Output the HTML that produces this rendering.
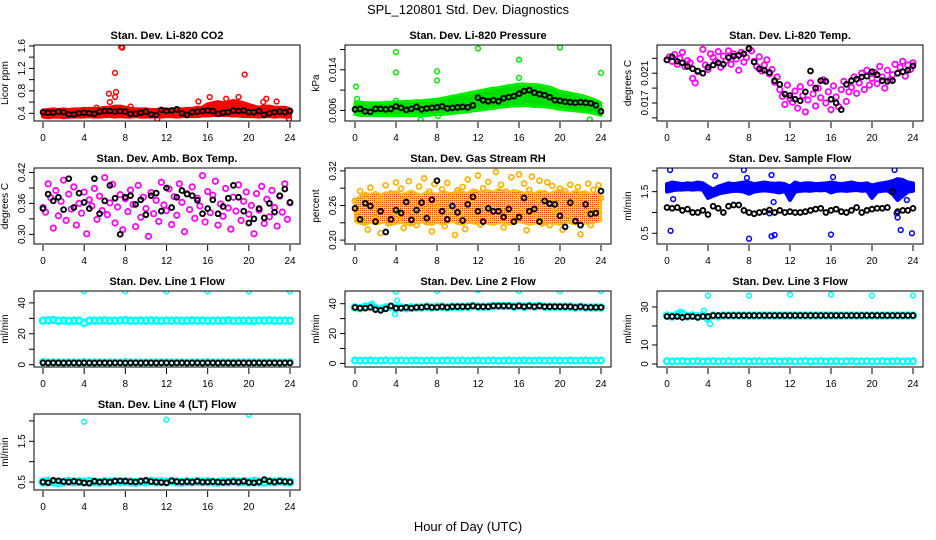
<!DOCTYPE html>
<html><head><meta charset="utf-8"><style>
html,body{margin:0;padding:0;background:#fff;}
svg{display:block;font-family:"Liberation Sans",sans-serif;}
</style></head><body>
<svg id="chart" width="936" height="540" viewBox="0 0 936 540" xmlns="http://www.w3.org/2000/svg">
<defs>
<pattern id="rhpat" width="2" height="2" patternUnits="userSpaceOnUse"><rect width="2" height="2" fill="#ffd800"/><rect width="1" height="1" fill="#ff2000"/></pattern>
</defs>
<text x="468" y="14" font-size="13" text-anchor="middle">SPL_120801  Std. Dev. Diagnostics</text>
<text x="468" y="531" font-size="13" text-anchor="middle">Hour of Day (UTC)</text>
<g id="panels"></g>
</svg>
<script>
const hours=[0,0.5,1,1.5,2,2.5,3,3.5,4,4.5,5,5.5,6,6.5,7,7.5,8,8.5,9,9.5,10,10.5,11,11.5,12,12.5,13,13.5,14,14.5,15,15.5,16,16.5,17,17.5,18,18.5,19,19.5,20,20.5,21,21.5,22,22.5,23,23.5,24];
const qhours=[0,0.25,0.5,0.75,1,1.25,1.5,1.75,2,2.25,2.5,2.75,3,3.25,3.5,3.75,4,4.25,4.5,4.75,5,5.25,5.5,5.75,6,6.25,6.5,6.75,7,7.25,7.5,7.75,8,8.25,8.5,8.75,9,9.25,9.5,9.75,10,10.25,10.5,10.75,11,11.25,11.5,11.75,12,12.25,12.5,12.75,13,13.25,13.5,13.75,14,14.25,14.5,14.75,15,15.25,15.5,15.75,16,16.25,16.5,16.75,17,17.25,17.5,17.75,18,18.25,18.5,18.75,19,19.25,19.5,19.75,20,20.25,20.5,20.75,21,21.25,21.5,21.75,22,22.25,22.5,22.75,23,23.25,23.5,23.75,24];
const xTicks=[0,4,8,12,16,20,24];

// CO2
const co2Lo=[0.34,0.33,0.34,0.34,0.33,0.34,0.34,0.34,0.34,0.35,0.34,0.34,0.35,0.35,0.34,0.35,0.34,0.34,0.35,0.34,0.34,0.34,0.35,0.34,0.35,0.35,0.34,0.35,0.35,0.35,0.35,0.36,0.36,0.37,0.37,0.37,0.37,0.36,0.36,0.35,0.35,0.35,0.34,0.35,0.35,0.34,0.35,0.34,0.34];
const co2Hi=[0.45,0.46,0.47,0.46,0.47,0.46,0.47,0.47,0.48,0.48,0.48,0.48,0.5,0.5,0.52,0.52,0.5,0.48,0.47,0.47,0.47,0.46,0.46,0.47,0.47,0.46,0.48,0.47,0.48,0.48,0.5,0.5,0.56,0.58,0.6,0.58,0.6,0.62,0.6,0.58,0.55,0.52,0.5,0.52,0.52,0.5,0.5,0.5,0.47];
const co2Blk=[0.42,0.41,0.41,0.43,0.42,0.38,0.38,0.4,0.41,0.4,0.39,0.43,0.44,0.44,0.43,0.44,0.43,0.39,0.39,0.41,0.43,0.38,0.37,0.46,0.44,0.45,0.47,0.4,0.37,0.42,0.43,0.44,0.45,0.44,0.39,0.41,0.42,0.45,0.44,0.45,0.42,0.42,0.44,0.37,0.4,0.42,0.43,0.42,0.44];
const co2OutX=[7.6,7.7,7.0,19.6,6.4,7.1,7.0,6.5,16.2,19.0,17.8,21.7,15.1,22.7,21.4,23.9,11.1,8.5,5.2];
const co2OutY=[1.58,1.57,1.12,1.09,0.75,0.78,0.69,0.6,0.69,0.69,0.66,0.66,0.61,0.61,0.6,0.3,0.3,0.52,0.5];

// Pressure
const prHi=[0.0076,0.0076,0.0075,0.0075,0.0075,0.0075,0.0076,0.0076,0.0077,0.0077,0.0078,0.0078,0.0079,0.0079,0.0080,0.0081,0.0082,0.0084,0.0086,0.0088,0.0090,0.0092,0.0094,0.0096,0.0098,0.0100,0.0102,0.0104,0.0105,0.0107,0.0109,0.0110,0.0112,0.0112,0.0111,0.0111,0.0110,0.0108,0.0106,0.0102,0.0098,0.0096,0.0094,0.0092,0.0090,0.0087,0.0084,0.0080,0.0075];
const prLo=[0.0052,0.0050,0.0050,0.0050,0.0050,0.0050,0.0050,0.0050,0.0050,0.0050,0.0050,0.0050,0.0050,0.0050,0.0050,0.0051,0.0052,0.0052,0.0053,0.0054,0.0055,0.0056,0.0057,0.0059,0.0060,0.0061,0.0063,0.0064,0.0066,0.0067,0.0068,0.0069,0.0069,0.0070,0.0069,0.0068,0.0068,0.0067,0.0066,0.0064,0.0062,0.0061,0.0060,0.0059,0.0058,0.0057,0.0055,0.0053,0.0050];
const prBlk=[0.0062,0.0063,0.0058,0.0057,0.0063,0.0063,0.0062,0.0063,0.0068,0.0065,0.0061,0.0063,0.0067,0.0062,0.0064,0.0065,0.0066,0.0068,0.0064,0.0065,0.0066,0.0067,0.0066,0.0070,0.0085,0.0080,0.0078,0.0080,0.0078,0.0084,0.0086,0.0088,0.0093,0.0098,0.0100,0.0095,0.0092,0.0090,0.0086,0.0080,0.0079,0.0077,0.0076,0.0075,0.0076,0.0075,0.0074,0.0070,0.0058];
const prOutX=[4,4,8,8,12,16,16,20,24,0.1,8.1,6.4,22.9,0.2,4];
const prOutY=[0.0175,0.0135,0.0137,0.0119,0.0182,0.0160,0.0124,0.0184,0.0134,0.0107,0.0049,0.0042,0.0042,0.0083,0.0079];

// Li-820 Temp
const tmpMag=[0.0228,0.0232,0.0226,0.0235,0.0222,0.0230,0.0238,0.0219,0.0227,
0.0224,0.0203,0.0197,0.0212,0.0229,0.0242,0.0221,0.0215,
0.0236,0.0231,0.0226,0.0239,0.0218,0.0233,0.0227,0.0240,
0.0222,0.0236,0.0229,0.0214,0.0238,0.0225,0.0231,0.0243,
0.0240,0.0226,0.0219,0.0232,0.0213,0.0221,0.0228,0.0209,
0.0215,0.0198,0.0205,0.0188,0.0179,0.0168,0.0194,0.0176,
0.0171,0.0186,0.0163,0.0192,0.0180,0.0158,0.0174,0.0197,
0.0182,0.0166,0.0190,0.0177,0.0201,0.0170,0.0185,0.0161,
0.0193,0.0178,0.0165,0.0188,0.0199,0.0172,0.0185,0.0191,
0.0205,0.0183,0.0197,0.0210,0.0188,0.0214,0.0194,0.0203,
0.0211,0.0196,0.0219,0.0205,0.0190,0.0214,0.0201,0.0208,
0.0222,0.0210,0.0218,0.0226,0.0206,0.0221,0.0215,0.0224];
const tmpBlk=[0.0228,0.0232,0.0226,0.0224,0.0219,0.0216,0.0213,0.0210,0.0218,0.0221,0.0224,0.0222,0.0231,0.0233,0.0234,0.0236,0.0243,0.0225,0.0216,0.0214,0.0211,0.0200,0.0195,0.0182,0.0180,0.0175,0.0173,0.0185,0.0213,0.0190,0.0200,0.0199,0.0175,0.0170,0.0161,0.0195,0.0200,0.0202,0.0205,0.0206,0.0212,0.0208,0.0200,0.0199,0.0200,0.0210,0.0212,0.0214,0.0220];

// Amb box temp
const ambMag=[0.352,0.343,0.398,0.371,0.312,0.385,0.336,0.364,0.405,
0.327,0.378,0.349,0.392,0.318,0.360,0.341,0.382,
0.301,0.367,0.355,0.389,0.329,0.374,0.346,0.410,
0.338,0.361,0.397,0.322,0.353,0.377,0.309,0.369,
0.344,0.386,0.358,0.315,0.395,0.333,0.372,0.350,
0.296,0.381,0.340,0.366,0.325,0.401,0.357,0.346,
0.388,0.319,0.373,0.337,0.398,0.362,0.305,0.379,
0.348,0.392,0.331,0.370,0.355,0.414,0.324,0.383,
0.342,0.376,0.403,0.318,0.359,0.335,0.389,0.351,
0.310,0.372,0.345,0.396,0.327,0.364,0.382,0.339,
0.356,0.301,0.379,0.347,0.393,0.321,0.368,0.334,
0.385,0.352,0.316,0.374,0.343,0.398,0.329,0.361];
const ambBlk=[0.350,0.378,0.365,0.372,0.348,0.408,0.352,0.380,0.362,0.350,0.408,0.340,0.365,0.395,0.370,0.300,0.372,0.375,0.358,0.367,0.338,0.375,0.380,0.345,0.390,0.352,0.372,0.385,0.378,0.375,0.366,0.340,0.350,0.367,0.340,0.354,0.370,0.395,0.372,0.345,0.322,0.330,0.350,0.332,0.360,0.343,0.375,0.388,0.362];

// Gas stream RH
const rhLo=[0.232,0.228,0.226,0.230,0.227,0.229,0.231,0.226,0.228,0.230,0.227,0.225,0.229,0.231,0.228,0.226,0.230,0.227,0.229,0.232,0.228,0.226,0.230,0.229,0.227,0.231,0.228,0.226,0.229,0.230,0.227,0.228,0.231,0.229,0.226,0.228,0.230,0.227,0.229,0.228,0.226,0.231,0.229,0.227,0.230,0.228,0.229,0.231,0.233];
const rhHi=[0.270,0.278,0.282,0.280,0.284,0.279,0.283,0.281,0.285,0.280,0.282,0.286,0.281,0.279,0.284,0.282,0.280,0.285,0.283,0.281,0.286,0.284,0.282,0.288,0.285,0.283,0.287,0.284,0.289,0.286,0.283,0.287,0.285,0.282,0.284,0.281,0.286,0.283,0.281,0.285,0.287,0.284,0.282,0.286,0.283,0.285,0.280,0.282,0.275];
const rhPts=[0.268,0.243,0.285,0.232,0.276,0.218,0.291,0.257,0.238,
0.272,0.212,0.264,0.295,0.229,0.281,0.247,0.300,
0.236,0.289,0.221,0.270,0.302,0.244,0.279,0.226,
0.293,0.253,0.307,0.231,0.284,0.215,0.297,0.262,
0.240,0.288,0.224,0.299,0.256,0.278,0.209,0.286,
0.245,0.292,0.219,0.305,0.266,0.233,0.283,0.312,
0.227,0.290,0.258,0.301,0.238,0.274,0.318,0.249,
0.296,0.222,0.284,0.263,0.309,0.235,0.277,0.314,
0.251,0.298,0.217,0.287,0.310,0.242,0.273,0.303,
0.229,0.281,0.300,0.226,0.294,0.252,0.270,0.289,
0.218,0.285,0.244,0.296,0.233,0.271,0.292,0.210,
0.279,0.248,0.298,0.226,0.287,0.262,0.295,0.273];
const rhBlk=[0.255,0.236,0.264,0.259,0.232,0.250,0.214,0.236,0.252,0.247,0.266,0.235,0.252,0.265,0.238,0.270,0.303,0.250,0.236,0.259,0.248,0.234,0.262,0.275,0.250,0.232,0.255,0.250,0.250,0.240,0.254,0.232,0.240,0.273,0.250,0.254,0.232,0.268,0.263,0.262,0.242,0.223,0.265,0.233,0.226,0.262,0.245,0.247,0.285];

// Sample flow
const sfLo=[1.50,1.53,1.55,1.55,1.56,1.55,1.56,1.55,1.35,1.40,1.45,1.48,1.50,1.52,1.52,1.50,1.45,1.50,1.52,1.53,1.52,1.50,1.48,1.52,1.30,1.50,1.52,1.53,1.52,1.54,1.53,1.54,1.48,1.52,1.53,1.52,1.53,1.54,1.52,1.53,1.35,1.50,1.52,1.53,1.45,1.30,1.40,1.50,1.52];
const sfHi=[1.68,1.72,1.70,1.68,1.70,1.69,1.72,1.70,1.62,1.55,1.62,1.66,1.70,1.68,1.70,1.72,1.72,1.68,1.70,1.72,1.70,1.69,1.70,1.68,1.62,1.72,1.68,1.70,1.70,1.68,1.69,1.70,1.72,1.70,1.68,1.70,1.72,1.69,1.68,1.70,1.65,1.68,1.70,1.72,1.75,1.80,1.78,1.72,1.70];
const sfBlk=[1.12,1.10,1.12,1.05,1.08,1.00,1.00,1.05,0.95,1.15,1.10,1.00,1.15,1.18,1.18,1.05,1.00,0.97,1.00,1.02,1.06,1.00,1.05,1.00,1.02,1.00,1.00,1.02,1.05,1.08,1.10,1.00,1.05,1.08,1.02,1.00,1.05,1.12,1.00,1.05,1.08,1.10,1.10,1.12,1.50,1.02,1.05,1.05,1.10];
const sfOutX=[0.3,0.35,0.6,4.7,7.5,7.8,8.0,10.2,10.2,10.5,10.4,16.0,16.2,22.2,22.8,23.9,22.5,22.4,23.4,10.0];
const sfOutY=[2.02,0.56,1.32,1.88,2.02,1.83,0.37,1.9,0.43,0.46,1.25,0.47,1.85,2.02,0.58,0.5,0.88,0.98,1.3,0.98];

// Line flows
const l1Cyan=[28.5,28.7,29.0,28.4,28.6,28.3,28.5,28.6,27.0,28.4,28.6,28.5,28.7,28.4,28.5,28.6,28.8,28.5,28.4,28.6,28.5,28.7,28.5,28.4,28.6,28.5,28.6,28.4,28.5,28.7,28.5,28.6,28.4,28.5,28.6,28.5,28.7,28.4,28.5,28.6,28.5,28.4,28.6,28.5,28.7,28.5,28.4,28.6,28.5];
const l1CyanLow=[1.8,1.5,1.6,1.5,1.4,1.6,1.5,1.5,1.7,1.5,1.6,1.5,1.4,1.6,1.5,1.5,1.8,1.5,1.6,1.5,1.5,1.4,1.6,1.5,1.6,1.5,1.5,1.6,1.4,1.5,1.6,1.5,1.7,1.5,1.5,1.6,1.4,1.5,1.6,1.5,1.6,1.5,1.5,1.4,1.6,1.5,1.5,1.4,1.6];
const l1Blk=[1.2,1.1,1.2,1.2,1.1,1.2,1.2,1.1,1.2,1.2,1.1,1.2,1.2,1.1,1.2,1.2,1.1,1.2,1.2,1.1,1.2,1.2,1.1,1.2,1.2,1.1,1.2,1.2,1.1,1.2,1.2,1.1,1.2,1.2,1.1,1.2,1.2,1.1,1.2,1.2,1.1,1.2,1.2,1.1,1.2,1.2,1.1,1.2,1.2];
const l1OutX=[4,8,12,16,20,24];
const l1OutY=[47.5,47.5,47.5,47.5,47.5,47.5];
const l2Cyan=[37.5,37.0,38.0,38.5,37.0,36.5,37.5,38.0,37.0,37.5,37.0,37.5,37.5,37.5,38.0,37.5,38.0,38.0,37.5,38.0,38.0,38.0,38.0,38.5,38.0,38.0,38.0,38.5,38.5,38.5,38.5,38.0,38.5,38.0,38.5,38.0,38.5,38.0,38.0,38.0,38.0,38.0,38.0,37.5,38.0,37.5,37.5,37.5,37.5];
const l2CyanLow=[2.0,1.8,1.9,2.0,1.8,1.9,2.0,1.8,1.9,2.0,1.8,1.9,2.0,1.8,1.9,2.0,1.8,1.9,2.0,1.8,1.9,2.0,1.8,1.9,2.0,1.8,1.9,2.0,1.8,1.9,2.0,1.8,1.9,2.0,1.8,1.9,2.0,1.8,1.9,2.0,1.8,1.9,2.0,1.8,1.9,2.0,1.8,1.9,2.0];
const l2Blk=[37.5,37.0,37.0,37.5,36.0,35.5,36.5,38.5,37.0,37.0,37.5,37.0,37.5,37.5,38.0,37.5,37.5,38.0,37.5,38.0,38.0,38.0,38.0,38.5,38.0,38.0,38.0,38.5,38.5,38.5,38.5,38.0,38.5,38.0,38.5,38.0,38.5,38.0,38.0,38.0,38.0,38.0,38.0,37.5,38.0,37.5,37.5,37.5,37.5];
const l2OutX=[4,8,12,16,20,24,1.7,3.9,4.1];
const l2OutY=[48,48.5,49,48.5,48.5,48.5,40,33,42];
const l3Cyan=[25.5,25.0,26.0,26.5,25.0,25.5,25.0,25.5,24.0,25.5,25.0,25.5,25.5,25.5,25.5,25.5,25.5,25.5,25.5,25.5,25.5,25.5,25.5,25.5,25.5,25.5,25.5,25.5,25.5,25.5,25.5,25.5,25.5,25.5,25.5,25.5,25.5,25.5,25.5,25.5,25.5,25.5,25.5,25.5,25.5,25.5,25.5,25.5,25.5];
const l3CyanLow=[1.5,1.3,1.4,1.5,1.3,1.4,1.5,1.3,1.4,1.5,1.3,1.4,1.5,1.3,1.4,1.5,1.3,1.4,1.5,1.3,1.4,1.5,1.3,1.4,1.5,1.3,1.4,1.5,1.3,1.4,1.5,1.3,1.4,1.5,1.3,1.4,1.5,1.3,1.4,1.5,1.3,1.4,1.5,1.3,1.4,1.5,1.3,1.4,1.5];
const l3Blk=[25.0,25.0,25.0,24.5,25.0,25.0,24.5,25.0,25.0,25.5,25.5,25.5,25.5,25.5,25.5,25.5,25.5,25.5,25.5,25.5,25.5,25.5,25.5,25.5,25.5,25.5,25.5,25.5,25.5,25.5,25.5,25.5,25.5,25.5,25.5,25.5,25.5,25.5,25.5,25.5,25.5,25.5,25.5,25.5,25.5,25.5,25.5,25.5,25.5];
const l3OutX=[4,8,12,16,20,24,1.3,3.6,4.2];
const l3OutY=[36,36,36.5,36.5,36,36,27.5,28,21];
const l4Cyan=[0.50,0.52,0.50,0.48,0.50,0.52,0.50,0.51,0.50,0.52,0.50,0.49,0.51,0.50,0.52,0.50,0.51,0.50,0.49,0.51,0.50,0.52,0.50,0.51,0.50,0.52,0.50,0.49,0.51,0.50,0.52,0.50,0.51,0.50,0.49,0.51,0.50,0.52,0.50,0.51,0.50,0.52,0.50,0.49,0.51,0.50,0.52,0.50,0.50];
const l4Blk=[0.50,0.48,0.54,0.53,0.51,0.50,0.52,0.50,0.48,0.47,0.52,0.50,0.51,0.50,0.52,0.53,0.52,0.51,0.50,0.52,0.54,0.51,0.50,0.49,0.48,0.53,0.51,0.50,0.51,0.50,0.52,0.50,0.50,0.51,0.50,0.49,0.50,0.51,0.50,0.52,0.49,0.48,0.50,0.56,0.52,0.50,0.52,0.51,0.50];
const l4OutX=[4,12,20];
const l4OutY=[1.98,2.03,2.15];

const NS="http://www.w3.org/2000/svg";
const root=document.getElementById('panels');
function mk(tag,attrs,parent){const e=document.createElementNS(NS,tag);for(const k in attrs)e.setAttribute(k,attrs[k]);parent.appendChild(e);return e;}

const cols=[[34,300,43,290],[345,611,355,601],[657,923,667,913]];
const rows=[[45,121],[168,244],[291,367],[414,490]];

function panel(cfg){
  const [bl,br,x0,x24]=cols[cfg.c];const [bt,bb]=rows[cfg.r];
  const g=mk('g',{},root);
  
  
  const sx=h=>x0+(h/24)*(x24-x0);
  const sy=v=>bb-(v-cfg.ymin)/(cfg.ymax-cfg.ymin)*(bb-bt);
  const t=mk('text',{x:(bl+br)/2,y:bt-6,'font-size':11,'font-weight':'bold','text-anchor':'middle'},g);
  t.textContent=cfg.title;
  
  
  const yl=mk('text',{x:0,y:0,'font-size':10,'text-anchor':'middle',transform:`translate(${bl-26},${(bt+bb)/2}) rotate(-90)`},g);
  yl.textContent=cfg.ylab;
  
  
  const clip='clip-'+cfg.name;
  const cp=mk('clipPath',{id:clip},g);mk('rect',{x:bl,y:bt,width:br-bl,height:bb-bt},cp);
  const plot=mk('g',{'clip-path':`url(#${clip})`},g);
  
  
  (cfg.bands||[]).forEach(b=>{
    let pts=[];b.x.forEach((h,i)=>pts.push(sx(h)+','+sy(b.hi[i])));
    for(let i=b.x.length-1;i>=0;i--)pts.push(sx(b.x[i])+','+sy(b.lo[i]));
    const p=mk('polygon',{points:pts.join(' '),fill:b.fill,stroke:b.color,'stroke-width':b.sw||4,'stroke-linejoin':'round'},plot);
    
    
  });
  (cfg.series||[]).forEach(s=>{
    s.x.forEach((h,i)=>{
      const c=mk('circle',{cx:sx(h),cy:sy(s.y[i]),r:s.r||2.4,fill:'none',stroke:s.color,'stroke-width':s.w||1.5},plot);
      
      
    });
  });
  const box=mk('rect',{x:bl,y:bt,width:br-bl,height:bb-bt,fill:'none',stroke:'#000','stroke-width':1},g);
  
  
  xTicks.forEach(h=>{
    mk('line',{x1:sx(h),x2:sx(h),y1:bb+1,y2:bb+7,stroke:'#000'},g);
    const tl=mk('text',{x:sx(h),y:bb+20,'font-size':10,'text-anchor':'middle'},g);
    tl.textContent=h;
    
    
  });
  const ty=cfg.yticks.filter(v=>v>=cfg.ymin&&v<=cfg.ymax);
  ty.forEach(v=>{mk('line',{x1:bl-5,x2:bl,y1:sy(v),y2:sy(v),stroke:'#000'},g);});
  cfg.ylabels.forEach((lab,i)=>{
    const v=cfg.ylabelVals[i];
    const tl=mk('text',{x:0,y:0,'font-size':10,'text-anchor':'middle',transform:`translate(${bl-9},${sy(v)}) rotate(-90)`},g);
    tl.textContent=lab;
    
    
  });
}

const BW=1.9;
panel({name:'co2',c:0,r:0,title:'Stan. Dev. Li-820 CO2',ylab:'Licor ppm',ymin:0.263,ymax:1.617,
  yticks:[0.4,0.6,0.8,1.0,1.2,1.4,1.6],ylabelVals:[0.4,0.8,1.2,1.6],ylabels:['0.4','0.8','1.2','1.6'],
  bands:[{x:hours,lo:co2Lo,hi:co2Hi,fill:'#ff0000',color:'#ff0000'}],
  series:[{name:'co2-outlier',x:co2OutX,y:co2OutY,color:'#ff0000'},{name:'co2-hourly',x:hours,y:co2Blk,color:'#000',w:BW}]});
panel({name:'pressure',c:1,r:0,title:'Stan. Dev. Li-820 Pressure',ylab:'kPa',ymin:0.00391,ymax:0.01889,
  yticks:[0.006,0.010,0.014,0.018],ylabelVals:[0.006,0.014],ylabels:['0.006','0.014'],
  bands:[{x:hours,lo:prLo,hi:prHi,fill:'#00dd00',color:'#00ee00',sw:3}],
  series:[{name:'pressure-outlier',x:prOutX,y:prOutY,color:'#00ee00'},{name:'pressure-hourly',x:hours,y:prBlk,color:'#000',w:BW}]});
panel({name:'li820-temp',c:2,r:0,title:'Stan. Dev. Li-820 Temp.',ylab:'degrees C',ymin:0.01458,ymax:0.02479,
  yticks:[0.015,0.017,0.019,0.021,0.023],ylabelVals:[0.017,0.021],ylabels:['0.017','0.021'],
  series:[{name:'li820-temp-sample',x:qhours,y:tmpMag,color:'#ff00ff',r:2.7,w:1.8},{name:'li820-temp-hourly',x:hours,y:tmpBlk,color:'#000',w:BW}]});
panel({name:'amb-box-temp',c:0,r:1,title:'Stan. Dev. Amb. Box Temp.',ylab:'degrees C',ymin:0.2812,ymax:0.4287,
  yticks:[0.30,0.33,0.36,0.39,0.42],ylabelVals:[0.30,0.36,0.42],ylabels:['0.30','0.36','0.42'],
  series:[{name:'amb-box-temp-sample',x:qhours,y:ambMag,color:'#ff00ff',r:2.7,w:1.8},{name:'amb-box-temp-hourly',x:hours,y:ambBlk,color:'#000',w:BW}]});
panel({name:'gas-rh',c:1,r:1,title:'Stan. Dev. Gas Stream RH',ylab:'percent',ymin:0.1932,ymax:0.325,
  yticks:[0.20,0.23,0.26,0.29,0.32],ylabelVals:[0.20,0.26,0.32],ylabels:['0.20','0.26','0.32'],
  bands:[{x:hours,lo:rhLo,hi:rhHi,fill:'url(#rhpat)',color:'#ffc000',sw:2}],
  series:[{name:'gas-rh-sample',x:qhours,y:rhPts,color:'#ffb000',r:2.5,w:1.7},{name:'gas-rh-hourly',x:hours,y:rhBlk,color:'#000',w:BW}]});
panel({name:'sample-flow',c:2,r:1,title:'Stan. Dev. Sample Flow',ylab:'ml/min',ymin:0.243,ymax:2.068,
  yticks:[0.5,1.0,1.5,2.0],ylabelVals:[0.5,1.5],ylabels:['0.5','1.5'],
  bands:[{x:hours,lo:sfLo,hi:sfHi,fill:'#0000ff',color:'#0000ff'}],
  series:[{name:'sample-flow-outlier',x:sfOutX,y:sfOutY,color:'#0000ff'},{name:'sample-flow-hourly',x:hours,y:sfBlk,color:'#000',w:BW}]});
panel({name:'line1-flow',c:0,r:2,title:'Stan. Dev. Line 1 Flow',ylab:'ml/min',ymin:-1.5,ymax:47.7,
  yticks:[0,10,20,30,40],ylabelVals:[0,20,40],ylabels:['0','20','40'],
  series:[{name:'line1-cyan',x:hours,y:l1Cyan,color:'#00ffff',r:3,w:2.6},{name:'line1-cyan-low',x:hours,y:l1CyanLow,color:'#00ffff',r:2.8,w:2.4},{name:'line1-outlier',x:l1OutX,y:l1OutY,color:'#00ffff'},{name:'line1-hourly',x:hours,y:l1Blk,color:'#000',w:BW}]});
panel({name:'line2-flow',c:1,r:2,title:'Stan. Dev. Line 2 Flow',ylab:'ml/min',ymin:-2.4,ymax:48.5,
  yticks:[0,10,20,30,40],ylabelVals:[0,20,40],ylabels:['0','20','40'],
  series:[{name:'line2-cyan',x:hours,y:l2Cyan,color:'#00ffff',r:3,w:2.6},{name:'line2-cyan-low',x:hours,y:l2CyanLow,color:'#00ffff',r:2.8,w:2.4},{name:'line2-outlier',x:l2OutX,y:l2OutY,color:'#00ffff'},{name:'line2-hourly',x:hours,y:l2Blk,color:'#000',w:BW}]});
panel({name:'line3-flow',c:2,r:2,title:'Stan. Dev. Line 3 Flow',ylab:'ml/min',ymin:-1.6,ymax:38.4,
  yticks:[0,10,20,30],ylabelVals:[0,10,30],ylabels:['0','10','30'],
  series:[{name:'line3-cyan',x:hours,y:l3Cyan,color:'#00ffff',r:3,w:2.6},{name:'line3-cyan-low',x:hours,y:l3CyanLow,color:'#00ffff',r:2.8,w:2.4},{name:'line3-outlier',x:l3OutX,y:l3OutY,color:'#00ffff'},{name:'line3-hourly',x:hours,y:l3Blk,color:'#000',w:BW}]});
panel({name:'line4-flow',c:0,r:3,title:'Stan. Dev. Line 4 (LT) Flow',ylab:'ml/min',ymin:0.304,ymax:2.17,
  yticks:[0.5,1.0,1.5,2.0],ylabelVals:[0.5,1.5],ylabels:['0.5','1.5'],
  series:[{name:'line4-cyan',x:hours,y:l4Cyan,color:'#00ffff',r:3.2,w:2.8},{name:'line4-outlier',x:l4OutX,y:l4OutY,color:'#00ffff'},{name:'line4-hourly',x:hours,y:l4Blk,color:'#000',w:BW}]});
</script>
</body></html>
